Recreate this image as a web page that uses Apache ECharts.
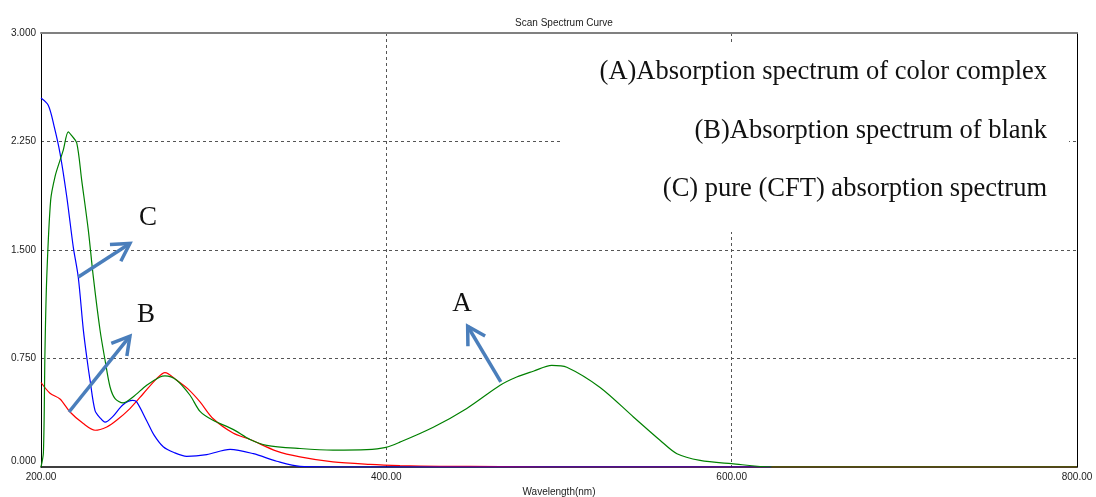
<!DOCTYPE html>
<html>
<head>
<meta charset="utf-8">
<script src="https://cdn.jsdelivr.net/npm/echarts@6/dist/echarts.min.js"></script>
<style>
  html, body { margin: 0; padding: 0; background: #fff; }
  #main { width: 1096px; height: 497px; }
</style>
</head>
<body>
<div id="main"></div>
<script>
// (A) colour complex - green
var complexNm = [200, 201.4, 202.3, 203.3, 205.6, 208.1, 211.0, 212.9, 215.8, 217.8, 220.7, 223.6, 227.4, 230.3,
    234.2, 237.1, 240.0, 242.9, 247.5, 253.3, 261.2, 268.9, 271.8, 278.6, 286.3, 292.1, 299.6, 311.2, 321.1,
    330.7, 350.0, 369.1, 388.6, 399.8, 407.9, 427.2, 446.6, 465.9, 475.5, 485.1, 495.8, 504.5, 523.8, 543.1, 558.5,
    568.3, 581.7, 600.0, 623.4, 700, 800];
var complexAbs = [0, 0.1, 0.8, 1.3, 1.845, 2.006, 2.12, 2.19, 2.317, 2.29, 2.24, 1.98, 1.637, 1.314,
    0.945, 0.738, 0.553, 0.473, 0.443, 0.484, 0.565, 0.622, 0.63, 0.6, 0.496, 0.385, 0.323, 0.26, 0.19,
    0.15, 0.128, 0.117, 0.12, 0.136, 0.172, 0.275, 0.405, 0.565, 0.622, 0.662, 0.703, 0.69, 0.55, 0.346, 0.185,
    0.092, 0.046, 0.023, 0, 0, 0];

// (B) blank - red
var blankNm = [200, 205.2, 211.0, 216.8, 224.5, 231.3, 238.1, 243.8, 251.5, 259.3, 267.0, 271.8, 278.6, 285.1,
    292.1, 299.6, 311.2, 321.1, 336.5, 350.0, 369.1, 390.5, 407.9, 431.1, 465.9, 492.5, 600, 800];
var blankAbs = [0.584, 0.51, 0.47, 0.38, 0.30, 0.254, 0.277, 0.323, 0.404, 0.508, 0.611, 0.653, 0.6, 0.54,
    0.45, 0.335, 0.235, 0.19, 0.11, 0.07, 0.035, 0.018, 0.01, 0.005, 0.003, 0, 0, 0];

// (C) pure CFT - blue
var cftNm = [200, 204.2, 207.5, 211, 214.9, 218.7, 221.6, 224.5, 226.6, 228.4, 231.3, 234.2, 237.1, 241.7,
    247.5, 253.1, 255.4, 261.2, 265.5, 270.8, 277, 284.4, 296, 309.5, 323, 336.5, 350, 380, 450, 550, 623];
var cftAbs = [2.55, 2.50, 2.36, 2.17, 1.87, 1.52, 1.31, 0.95, 0.75, 0.60, 0.39, 0.34, 0.31, 0.35,
    0.43, 0.46, 0.45, 0.32, 0.22, 0.14, 0.10, 0.074, 0.086, 0.122, 0.092, 0.04, 0.005, 0, 0, 0, 0];

var xTicks = [200, 400, 600, 800];
var yTicks = [0, 0.75, 1.5, 2.25, 3];

var legendLines = [
    '(A)Absorption spectrum of color complex',
    '(B)Absorption spectrum of blank',
    '(C) pure (CFT) absorption spectrum'
];

// arrows: [tail, head] in data units, and the letter next to each
var arrowC = [[221.6, 1.314], [251.5, 1.545]];
var arrowB = [[216.2, 0.38], [251.5, 0.904]];
var arrowA = [[466.3, 0.588], [447.1, 0.973]];
var letters = [['C', 262, 1.72], ['B', 260.8, 1.05], ['A', 443.8, 1.125]];

function pairs(xs, ys) {
    return xs.map(function (x, i) { return [x, ys[i]]; });
}

var sansFont = '"Liberation Sans", Arial, sans-serif';
var serifFont = '"Liberation Serif", "Times New Roman", serif';

var myChart = echarts.init(document.getElementById('main'));

var gridLine = {
    show: true,
    showMinLine: false,
    showMaxLine: false,
    lineStyle: { color: '#555', type: [3, 3], width: 1 }
};

var option = {
    animation: false,
    backgroundColor: '#fff',
    title: {
        text: 'Scan Spectrum Curve',
        left: 559,
        top: 13,
        textAlign: 'center',
        textStyle: { fontFamily: sansFont, fontSize: 10, fontWeight: 'normal', color: '#222' }
    },
    grid: { left: 41, right: 19, top: 33, bottom: 30, containLabel: false, outerBoundsMode: 'none' },
    xAxis: [{
        type: 'value',
        min: xTicks[0],
        max: xTicks[xTicks.length - 1],
        interval: 200,
        name: 'Wavelength(nm)',
        nameLocation: 'middle',
        nameGap: 20,
        nameTextStyle: { fontFamily: sansFont, fontSize: 10, color: '#222' },
        axisLine: { show: true, onZero: false, lineStyle: { color: '#000', width: 1.5 } },
        axisTick: { show: false },
        axisLabel: {
            margin: 5,
            fontFamily: sansFont, fontSize: 10, color: '#222',
            formatter: function (v) { return v.toFixed(2); }
        },
        splitLine: gridLine
    }, {
        type: 'value',
        position: 'top',
        min: xTicks[0],
        max: xTicks[xTicks.length - 1],
        axisLine: { show: true, onZero: false, lineStyle: { color: '#808080', width: 2 } },
        axisTick: { show: false },
        axisLabel: { show: false },
        splitLine: { show: false }
    }],
    yAxis: [{
        type: 'value',
        min: yTicks[0],
        max: yTicks[yTicks.length - 1],
        interval: 0.75,
        axisLine: { show: true, onZero: false, lineStyle: { color: '#000', width: 1 } },
        axisTick: { show: false },
        axisLabel: {
            margin: 5,
            fontFamily: sansFont, fontSize: 10, color: '#222',
            formatter: function (v) {
                return v === 0 ? '{low|' + v.toFixed(3) + '}' : v.toFixed(3);
            },
            rich: { low: { fontFamily: sansFont, fontSize: 10, color: '#222', padding: [0, 0, 11, 0] } }
        },
        splitLine: gridLine
    }, {
        type: 'value',
        position: 'right',
        min: yTicks[0],
        max: yTicks[yTicks.length - 1],
        axisLine: { show: true, onZero: false, lineStyle: { color: '#000', width: 1 } },
        axisTick: { show: false },
        axisLabel: { show: false },
        splitLine: { show: false }
    }],
    series: [{
        name: 'blank',
        type: 'line',
        showSymbol: false,
        smooth: 0.3,
        lineStyle: { color: '#ff0000', width: 1.2 },
        data: pairs(blankNm, blankAbs),
        z: 2
    }, {
        name: 'pure CFT',
        type: 'line',
        showSymbol: false,
        smooth: 0.3,
        lineStyle: { color: '#0000ff', width: 1.2 },
        data: pairs(cftNm, cftAbs),
        z: 3
    }, {
        name: 'color complex',
        type: 'line',
        showSymbol: false,
        smooth: 0.3,
        lineStyle: { color: '#008000', width: 1.2 },
        data: pairs(complexNm, complexAbs),
        z: 4
    }]
};
myChart.setOption(option);

// annotations: white legend panel, legend text, arrows and letters
var arrowStyle = { stroke: '#4a7ebb', lineWidth: 3.5, fill: null, lineJoin: 'miter', lineCap: 'butt' };

function toPx(p) {
    return myChart.convertToPixel({ gridIndex: 0 }, p);
}

function arrow(a) {
    var t = toPx(a[0]), h = toPx(a[1]);
    var ang = Math.atan2(t[1] - h[1], t[0] - h[0]);
    var len = 20, spread = Math.PI / 6;
    var w1 = [h[0] + len * Math.cos(ang + spread), h[1] + len * Math.sin(ang + spread)];
    var w2 = [h[0] + len * Math.cos(ang - spread), h[1] + len * Math.sin(ang - spread)];
    return [
        { type: 'polyline', z: 20, shape: { points: [t, h] }, style: arrowStyle },
        { type: 'polyline', z: 20, shape: { points: [w1, h, w2] }, style: arrowStyle }
    ];
}

var graphics = [{
    type: 'rect',
    z: 5,
    shape: { x: 562, y: 43, width: 507, height: 189 },
    style: { fill: '#fff' }
}];

var legendY = [72, 131, 189];
legendLines.forEach(function (txt, i) {
    graphics.push({
        type: 'text',
        z: 6,
        x: 1047,
        y: legendY[i],
        style: {
            text: txt, fill: '#111',
            font: '26.5px ' + serifFont,
            align: 'right', verticalAlign: 'middle'
        }
    });
});

[arrowC, arrowB, arrowA].forEach(function (a) {
    graphics = graphics.concat(arrow(a));
});

letters.forEach(function (l) {
    var p = toPx([l[1], l[2]]);
    graphics.push({
        type: 'text',
        z: 21,
        x: p[0],
        y: p[1],
        style: {
            text: l[0], fill: '#111',
            font: '27px ' + serifFont,
            align: 'center', verticalAlign: 'middle'
        }
    });
});

myChart.setOption({ graphic: graphics });
</script>
</body>
</html>
